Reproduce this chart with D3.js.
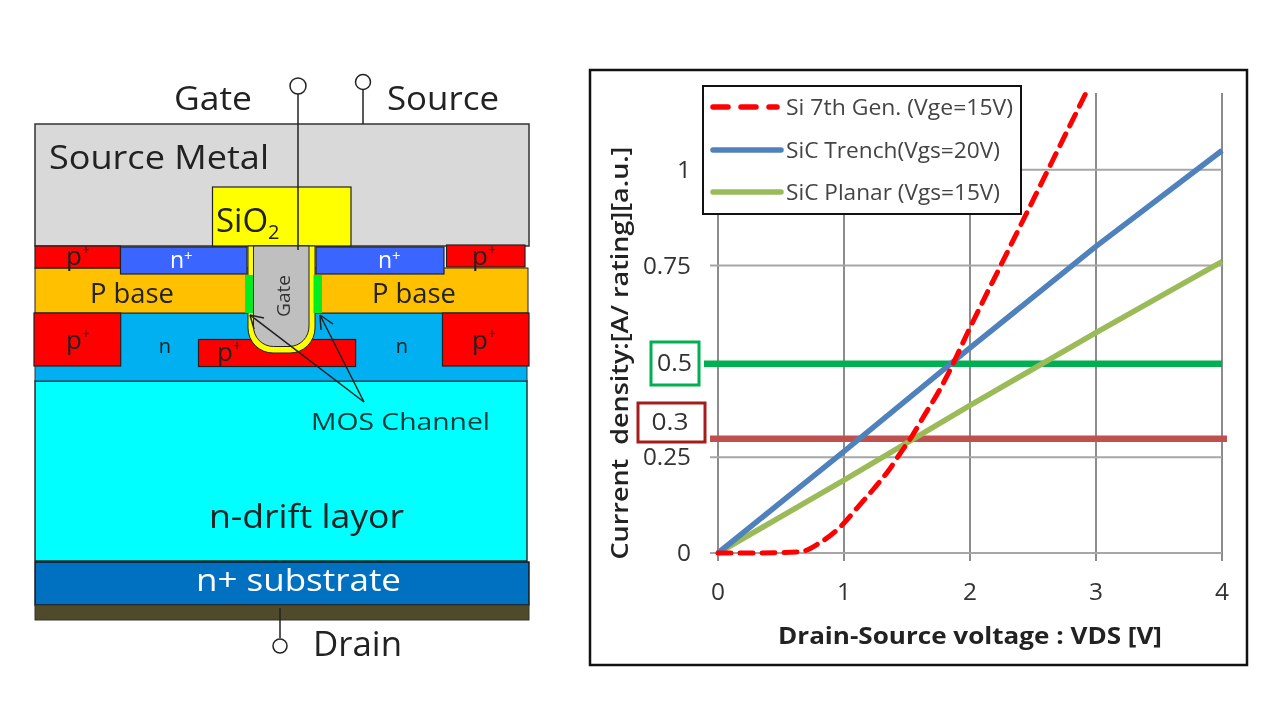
<!DOCTYPE html>
<html><head><meta charset="utf-8">
<script src="https://cdn.jsdelivr.net/npm/d3@7"></script>
<style>html,body{margin:0;background:#fff}svg{display:block;filter:blur(0.55px)}text{font-family:"Open Sans",sans-serif}</style>
</head><body><svg id="c" width="1280" height="721"></svg>
<script>
const seriesNames=["Si 7th Gen. (Vge=15V)","SiC Trench(Vgs=20V)","SiC Planar (Vgs=15V)"];
const siVolts=[0,0.3,0.65,0.8,1,1.1,1.23,1.36,1.44,1.54,1.63,1.76,1.85,1.98,2.25,2.45,2.65,2.92];
const siDensity=[0,0,0.003,0.025,0.078,0.116,0.165,0.218,0.257,0.305,0.355,0.426,0.483,0.574,0.754,0.887,1.02,1.2];
const trenchVolts=[0,1,2,3,4];
const trenchDensity=[0,0.265,0.535,0.8,1.05];
const planarVolts=[0,1,2,3,4];
const planarDensity=[0,0.19,0.385,0.575,0.76];
const xTicks=[0,1,2,3,4];
const yTicks=[0,0.25,0.75,1];
const refLevels=[0.494,0.298];

const svg=d3.select("#c");
const d=svg.append("g");
const R=(x0,y0,x1,y1,fill,stroke="#222",sw=1.2)=>d.append("rect").attr("x",x0).attr("y",y0).attr("width",x1-x0).attr("height",y1-y0).attr("fill",fill).attr("stroke",stroke).attr("stroke-width",sw);
const T=(s,x,y,size,w,fill="#222",anchor="start",g=d)=>{const t=g.append("text").attr("x",x).attr("y",y).attr("font-size",size).attr("fill",fill).attr("text-anchor",anchor).text(s);
 if(w)t.attr("textLength",w).attr("lengthAdjust","spacingAndGlyphs");return t;};
R(35,124,529,246,"#d9d9d9","#333",1.5);
R(35,381,527,561,"#00ffff","#222",1.4);
R(35,313,527,381,"#00b0f0","#333",1);
R(35,268,528,313,"#ffc000","#222",1);
R(35,562,529,605,"#0070c0","#111",1.4);
R(35,605,529,620,"#4f4a2a","#333",1);
R(212.5,187,351,246,"#ffff00");
R(35,246,120.5,268,"#ff0000");
R(446.5,245,525,267,"#ff0000");
R(120.5,247,247,274,"#3a66ff");
R(316,247,444,274,"#3a66ff");
R(34,313,120.7,366,"#ff0000");
R(442.5,313,529,366,"#ff0000");
R(198.5,339.5,355.6,366.5,"#ff0000");
d.append("path").attr("d","M248,246V328a25,25 0 0 0 25,25H290a25,25 0 0 0 25,-25V246Z").attr("fill","#ffff00").attr("stroke","#222").attr("stroke-width",1);
d.append("path").attr("d","M253.5,246V326a20,20 0 0 0 20,20.5H289a20,20 0 0 0 20,-20.5V246Z").attr("fill","#bfbfbf").attr("stroke","#222").attr("stroke-width",1);
R(245,275,253,313,"#00ee20","none");
R(313.5,275,322,313,"#00ee20","none");
T("Gate",174,110,32,78);T("Source",387,110,32,112);
T("Source Metal",49,169,32,220);
const sio=T("SiO",216,232,33);sio.append("tspan").attr("font-size",20).attr("dy",7).text("2");
[[170,268],[378,268]].forEach(([x,y])=>{const t=T("n",x,y,23,null,"#fff");t.append("tspan").attr("font-size",15).attr("dy",-7).text("+");});
T("P base",90,303,27,84);T("P base",372,303,27,84);
[[78,265],[484,265],[78,349],[484,349],[229,361]].forEach(([x,y])=>{const t=T("p",x,y,26,null,"#222","middle");t.append("tspan").attr("font-size",14).attr("dy",-10).text("+");});
T("n",165,353,20,null,"#222","middle");T("n",402,353,20,null,"#222","middle");
d.append("text").attr("transform","translate(290,296) rotate(-90)").attr("text-anchor","middle").attr("font-size",19).attr("fill","#333").text("Gate");
T("MOS Channel",311,430,23,179,"#073b3b");
T("n-drift layor",209,528,32,195);
T("n+ substrate",196,591,31,205,"#fff");
T("Drain",313,656,34,89);
const L=(x0,y0,x1,y1,sw=1.5)=>d.append("line").attr("x1",x0).attr("y1",y0).attr("x2",x1).attr("y2",y1).attr("stroke","#222").attr("stroke-width",sw);
L(298,94,298,250);L(363,90,363,124);L(280,608,280,638);
[[298,86,8],[363,82,7.5],[280,646,7]].forEach(([x,y,r])=>d.append("circle").attr("cx",x).attr("cy",y).attr("r",r).attr("fill","#fff").attr("stroke","#222").attr("stroke-width",1.5));
L(250,315,364,402);L(320,315,364,402);
L(250,315,264,318);L(250,315,254,329);L(320,315,333,324);L(320,315,321,330);

const c=svg.append("g");
c.append("rect").attr("x",590).attr("y",70).attr("width",657).attr("height",595).attr("fill","#fff").attr("stroke","#111").attr("stroke-width",2.5);
const x=d3.scaleLinear().domain([0,4]).range([718,1222]);
const y=d3.scaleLinear().domain([0,1.2]).range([553,93]);
xTicks.forEach(t=>c.append("line").attr("x1",x(t)).attr("x2",x(t)).attr("y1",y(1.2)).attr("y2",y(0)+8).attr("stroke","#8c8c8c").attr("stroke-width",2));
yTicks.forEach(t=>c.append("line").attr("x1",x(0)-8).attr("x2",x(4)).attr("y1",y(t)).attr("y2",y(t)).attr("stroke","#a6a6a6").attr("stroke-width",2));
const zip=(a,b)=>a.map((v,i)=>[v,b[i]]);
const straight=d3.line().x(p=>x(p[0])).y(p=>y(p[1]));
const smooth=straight.curve?d3.line().x(p=>x(p[0])).y(p=>y(p[1])).curve(d3.curveMonotoneX):straight;
c.append("line").attr("x1",704).attr("x2",1222).attr("y1",y(refLevels[0])).attr("y2",y(refLevels[0])).attr("stroke","#00b050").attr("stroke-width",6.5);
c.append("line").attr("x1",710).attr("x2",1227).attr("y1",y(refLevels[1])).attr("y2",y(refLevels[1])).attr("stroke","#c0504d").attr("stroke-width",6.5);
c.append("path").attr("d",straight(zip(planarVolts,planarDensity))).attr("fill","none").attr("stroke","#9bbb59").attr("stroke-width",5.5);
c.append("path").attr("d",straight(zip(trenchVolts,trenchDensity))).attr("fill","none").attr("stroke","#4f81bd").attr("stroke-width",5.5);
c.append("path").attr("d",smooth(zip(siVolts,siDensity))).attr("fill","none").attr("stroke","#ff0000").attr("stroke-width",5).attr("stroke-dasharray","13 9").attr("stroke-linecap","round");
const ink="#333";
xTicks.forEach(t=>T(String(t),x(t),600,23,14,ink,"middle",c));
yTicks.forEach(t=>T(String(t),691,y(t)+8,23,t===0||t===1?14:48,ink,"end",c));
c.append("rect").attr("x",651).attr("y",342).attr("width",48).attr("height",43).attr("fill","#fff").attr("stroke","#00b050").attr("stroke-width",3);
T("0.5",657,371,23,35,ink,"start",c);
c.append("rect").attr("x",638).attr("y",403).attr("width",67).attr("height",39).attr("fill","#fff").attr("stroke","#a61c1c").attr("stroke-width",3);
T("0.3",670,430,23,37,ink,"middle",c);
c.append("text").attr("transform","translate(628,353) rotate(-90)").attr("text-anchor","middle").attr("font-size",23).attr("font-weight",600).attr("fill","#222").attr("xml:space","preserve").attr("textLength",413).attr("lengthAdjust","spacingAndGlyphs").text("Current  density:[A/ rating][a.u.]");
c.append("text").attr("x",970).attr("y",644).attr("text-anchor","middle").attr("font-size",23).attr("font-weight",700).attr("fill","#222").attr("textLength",384).attr("lengthAdjust","spacingAndGlyphs").text("Drain-Source voltage : VDS [V]");
c.append("rect").attr("x",703).attr("y",86).attr("width",318).attr("height",128).attr("fill","#fff").attr("stroke","#111").attr("stroke-width",2);
const legY=[107,150,192],legC=["#ff0000","#4f81bd","#9bbb59"],legW=[227,214,214];
seriesNames.forEach((s,i)=>{
 const ln=c.append("line").attr("x1",713).attr("x2",i===0?777:781).attr("y1",legY[i]).attr("y2",legY[i]).attr("stroke",legC[i]).attr("stroke-width",5.5).attr("stroke-linecap","round");
 if(i===0)ln.attr("stroke-dasharray","15 13");
 T(s,786,legY[i]+8,21,legW[i],"#444","start",c);
});
</script></body></html>
